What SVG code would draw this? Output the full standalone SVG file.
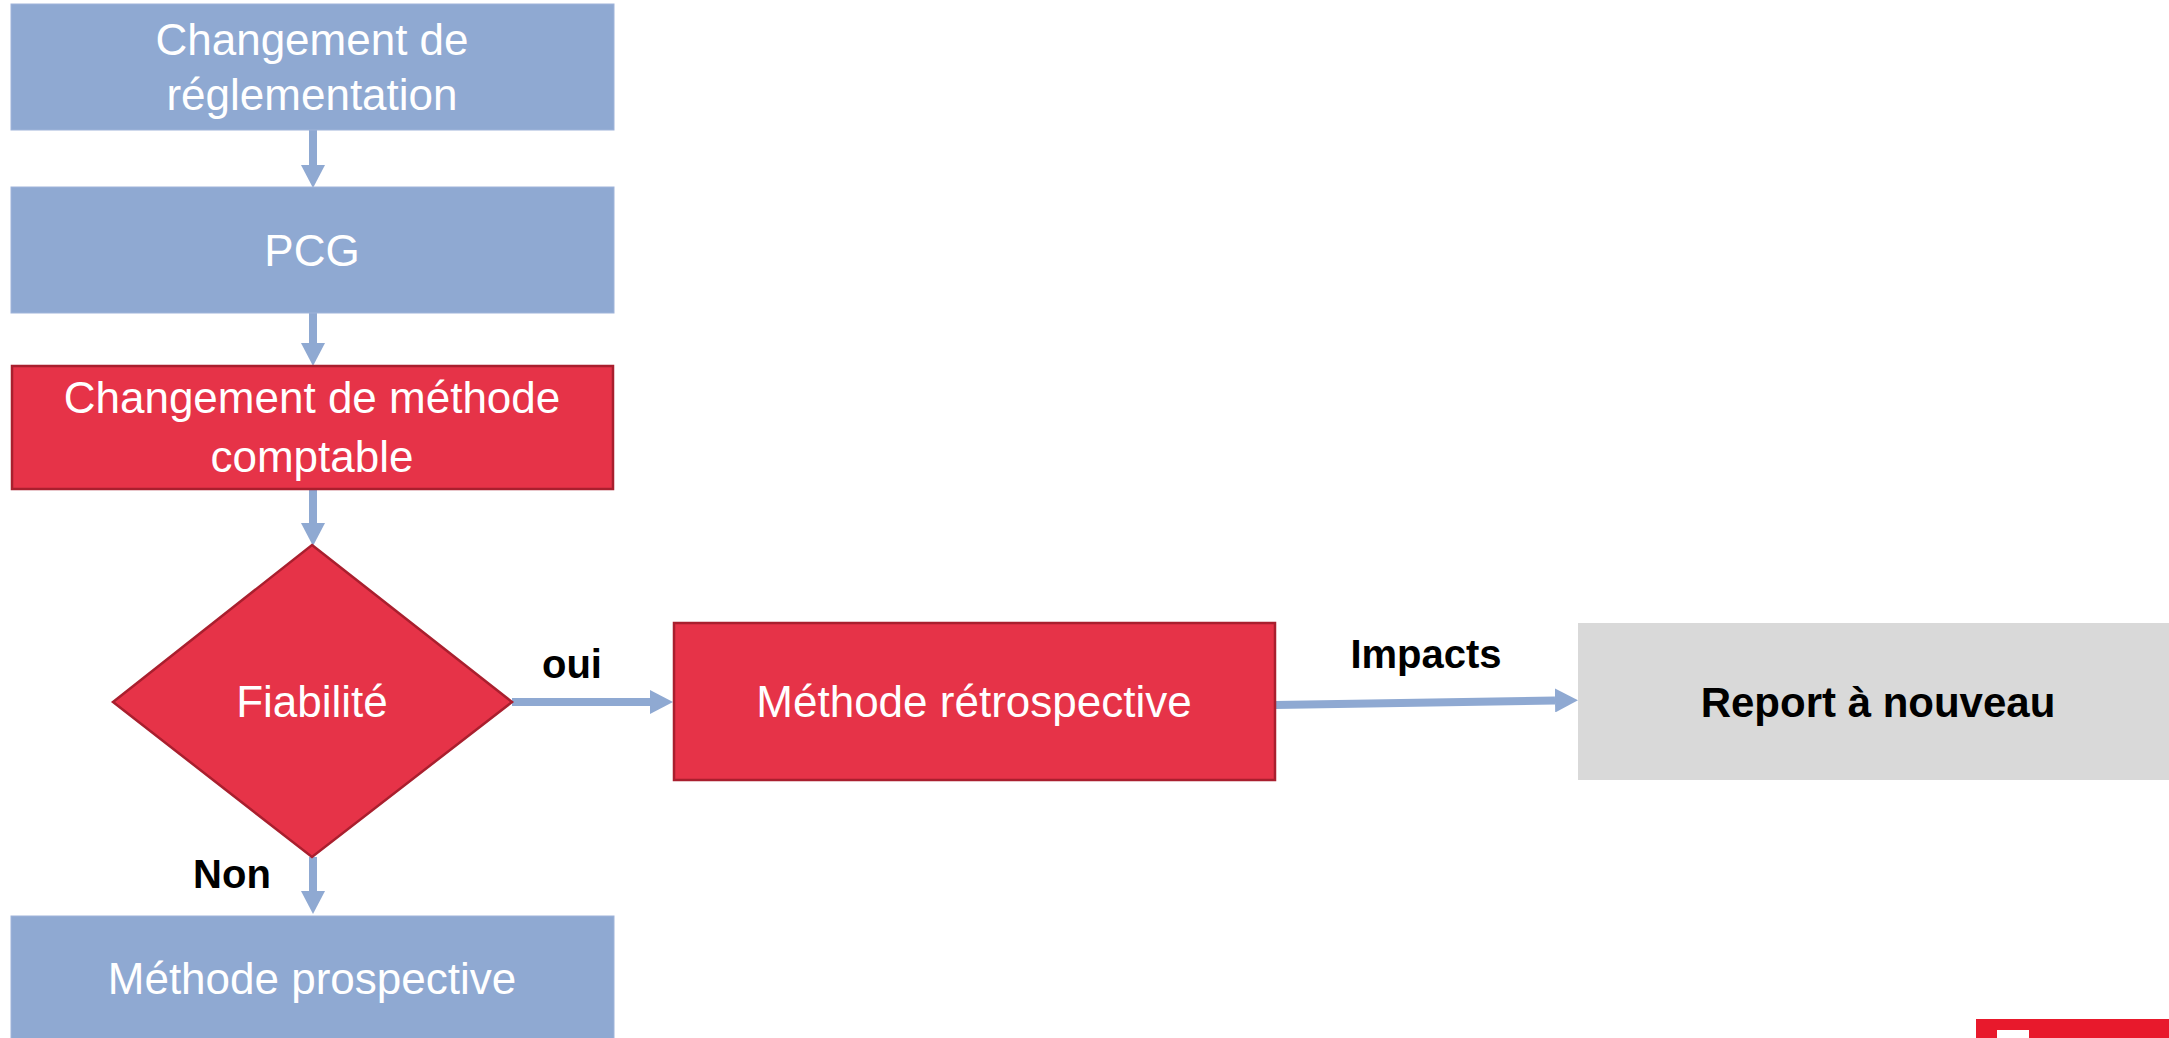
<svg xmlns="http://www.w3.org/2000/svg" width="2169" height="1038" viewBox="0 0 2169 1038">
<style>
.blue{fill:#8FA9D2;stroke:#9FB4DA;stroke-width:1}
.red{fill:#E63348;stroke:#A91F2E;stroke-width:2.5}
.gray{fill:#D9D9D9}
.t{font-family:"Liberation Sans",Arial,sans-serif;font-size:44px;fill:#FFFFFF;text-anchor:middle}
.b{font-family:"Liberation Sans",Arial,sans-serif;font-weight:bold;font-size:40px;fill:#000000;text-anchor:middle}
.c{stroke:#8FA9D2;stroke-width:8;fill:none}
</style>
<defs>
<marker id="ah" viewBox="0 0 23 24" refX="0" refY="12" markerWidth="23" markerHeight="24" markerUnits="userSpaceOnUse" orient="auto">
<path d="M0,0 L23,12 L0,24 Z" fill="#8FA9D2"/>
</marker>
</defs>
<rect width="2169" height="1038" fill="#FFFFFF"/>
<g id="connectors">
<line class="c" x1="313" y1="130" x2="313" y2="165" marker-end="url(#ah)"/>
<line class="c" x1="313" y1="313" x2="313" y2="343" marker-end="url(#ah)"/>
<line class="c" x1="313" y1="489" x2="313" y2="523" marker-end="url(#ah)"/>
<line class="c" x1="313" y1="857" x2="313" y2="891" marker-end="url(#ah)"/>
<line class="c" x1="512" y1="702" x2="650" y2="702" marker-end="url(#ah)"/>
<line class="c" x1="1275" y1="705" x2="1555" y2="700.5" marker-end="url(#ah)"/>
<text class="b" x="572" y="678">oui</text>
<text class="b" x="232" y="888">Non</text>
<text class="b" x="1426" y="668">Impacts</text>
</g>
<g id="n1">
<rect class="blue" x="11" y="4" width="603" height="126"/>
<text class="t" x="312" y="55">Changement de</text>
<text class="t" x="312" y="110">réglementation</text>
</g>
<g id="n2">
<rect class="blue" x="11" y="187" width="603" height="126"/>
<text class="t" x="312" y="266">PCG</text>
</g>
<g id="n3">
<rect class="red" x="12" y="366" width="601" height="123"/>
<text class="t" x="312" y="413">Changement de méthode</text>
<text class="t" x="312" y="472">comptable</text>
</g>
<g id="n4">
<polygon class="red" points="312,545 512,702 312,857 113,702"/>
<text class="t" x="312" y="717">Fiabilité</text>
</g>
<g id="n5">
<rect class="red" x="674" y="623" width="601" height="157"/>
<text class="t" x="974" y="717">Méthode rétrospective</text>
</g>
<g id="n6">
<rect class="gray" x="1578" y="623" width="600" height="157"/>
<text class="b" x="1878" y="717" style="font-size:42px">Report à nouveau</text>
</g>
<g id="n7">
<rect class="blue" x="11" y="916" width="603" height="130"/>
<text class="t" x="312" y="994">Méthode prospective</text>
</g>
<g id="logo">
<rect x="1976" y="1019" width="200" height="25" fill="#E8192C"/>
<rect x="1997" y="1030" width="32" height="12" fill="#FFFFFF"/>
</g>
</svg>
